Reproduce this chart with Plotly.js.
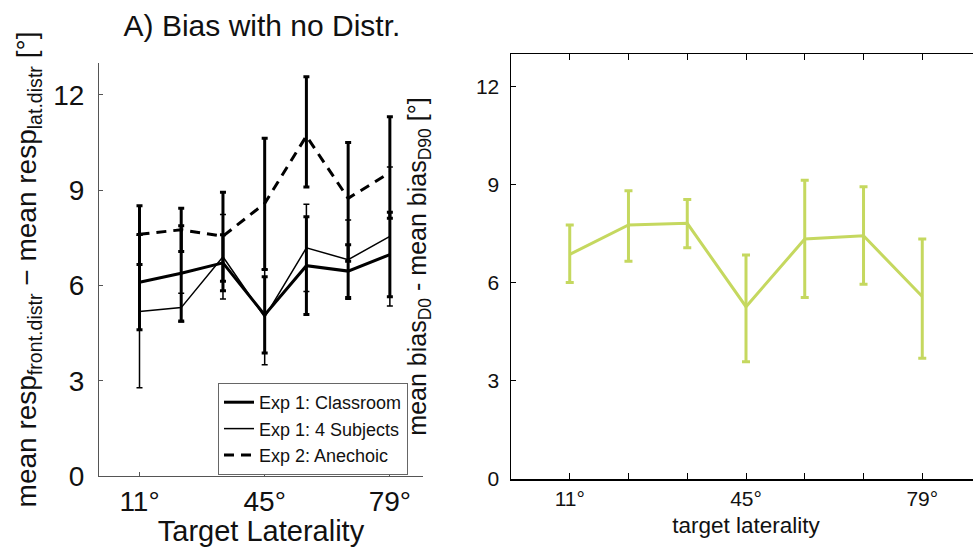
<!DOCTYPE html>
<html>
<head>
<meta charset="utf-8">
<script src="https://cdn.plot.ly/plotly-3.0.1.min.js"></script>
<style>
  html, body { margin: 0; padding: 0; overflow: hidden; background: #fff; }
  #chart { width: 1000px; height: 547px; }
</style>
</head>
<body>
<div id="chart"></div>
<script>
// ---- data ----
const laterality = [11, 22.33, 33.67, 45, 56.33, 67.67, 79];
const leftTickVals = [11, 45, 79];
const leftTickText = ['11°', '45°', '79°'];
const rightTickText = ['11°', '', '', '45°', '', '', '79°'];
const yTicks = [0, 3, 6, 9, 12];

const classroomMean = [6.10, 6.38, 6.71, 5.07, 6.62, 6.45, 6.97];
const classroomErr  = [1.50, 1.50, 0.88, 1.20, 1.54, 0.83, 1.33];

const subjectsMean = [5.18, 5.30, 6.90, 5.00, 7.18, 6.81, 7.54];
const subjectsErr  = [2.40, 0.45, 1.33, 1.50, 1.37, 1.25, 2.19];

const anechoicMean  = [7.61, 7.75, 7.55, 8.58, 10.70, 8.74, 9.55];
const anechoicPlus  = [0.90, 0.68, 1.38, 2.05, 1.87, 1.76, 1.76];
const anechoicMinus = [0.95, 0.68, 1.42, 2.08, 1.60, 1.98, 1.44];

const diffMean  = [6.87, 7.77, 7.82, 5.27, 7.34, 7.44, 5.58];
const diffPlus  = [0.90, 1.05, 0.73, 1.58, 1.80, 1.50, 1.76];
const diffMinus = [0.86, 1.11, 0.75, 1.68, 1.79, 1.48, 1.89];

const FONT = 'Liberation Sans, Arial, Helvetica, sans-serif';
const GREEN = '#c5d85f';

const traces = [
  {
    name: 'Exp 1: Classroom', x: laterality, y: classroomMean, xaxis: 'x', yaxis: 'y',
    type: 'scatter', mode: 'lines',
    line: {color: '#000', width: 3},
    error_y: {type: 'data', array: classroomErr, visible: true, color: '#000', thickness: 3, width: 3}
  },
  {
    name: 'Exp 1: 4 Subjects', x: laterality, y: subjectsMean, xaxis: 'x', yaxis: 'y',
    type: 'scatter', mode: 'lines',
    line: {color: '#000', width: 1.5},
    error_y: {type: 'data', array: subjectsErr, visible: true, color: '#000', thickness: 1.5, width: 3}
  },
  {
    name: 'Exp 2: Anechoic', x: laterality, y: anechoicMean, xaxis: 'x', yaxis: 'y',
    type: 'scatter', mode: 'lines',
    line: {color: '#000', width: 3, dash: '10px,7px'},
    error_y: {type: 'data', symmetric: false, array: anechoicPlus, arrayminus: anechoicMinus,
              visible: true, color: '#000', thickness: 3, width: 3}
  },
  {
    name: 'D0 - D90', x: laterality, y: diffMean, xaxis: 'x2', yaxis: 'y2',
    type: 'scatter', mode: 'lines', showlegend: false,
    line: {color: GREEN, width: 3},
    error_y: {type: 'data', symmetric: false, array: diffPlus, arrayminus: diffMinus,
              visible: true, color: GREEN, thickness: 3, width: 4}
  }
];

const layout = {
  width: 1000, height: 547,
  margin: {l: 0, r: 0, t: 0, b: 0},
  paper_bgcolor: '#fff', plot_bgcolor: '#fff',
  font: {family: FONT, color: '#111'},
  title: {text: 'A) Bias with no Distr.', font: {family: FONT, size: 30, color: '#111'},
          x: 0.262, xanchor: 'center', xref: 'paper', y: 1 - 25/547, yanchor: 'middle'},
  showlegend: true,
  legend: {x: 0.218, y: 1 - 383/547, xanchor: 'left', yanchor: 'top',
           bgcolor: '#fff', bordercolor: '#666', borderwidth: 1, tracegroupgap: 0,
           font: {family: FONT, size: 18, color: '#111'}},
  xaxis: {
    domain: [0.099, 0.423], range: [0, 88], anchor: 'y',
    tickvals: leftTickVals, ticktext: leftTickText,
    ticks: 'inside', ticklen: 4, tickcolor: '#555',
    showline: true, linecolor: '#555', linewidth: 1,
    showgrid: false, zeroline: false,
    tickfont: {family: FONT, size: 28, color: '#111'},
    title: {text: 'Target Laterality', font: {family: FONT, size: 29, color: '#111'}, standoff: 0}
  },
  yaxis: {
    domain: [1 - 476/547, 1 - 63/547], range: [0, 13], anchor: 'x',
    tickvals: yTicks, ticks: 'inside', ticklen: 4, tickcolor: '#555',
    showline: true, linecolor: '#555', linewidth: 1,
    showgrid: false, zeroline: false, ticklabelstandoff: 8,
    tickfont: {family: FONT, size: 28, color: '#111'},
    title: {text: 'mean resp<sub>front.distr</sub> \u2212 mean resp<sub>lat.distr</sub> [°]',
            font: {family: FONT, size: 28, color: '#111'}, standoff: 8}
  },
  xaxis2: {
    domain: [0.511, 0.981], range: [-0.33, 90.33], anchor: 'y2',
    tickvals: laterality, ticktext: rightTickText,
    ticks: 'inside', ticklen: 6, tickcolor: '#000', mirror: 'ticks',
    showline: true, linecolor: '#000', linewidth: 1.5,
    showgrid: false, zeroline: false,
    tickfont: {family: FONT, size: 21, color: '#111'},
    title: {text: 'target laterality', font: {family: FONT, size: 22.5, color: '#111'}, standoff: 8}
  },
  yaxis2: {
    domain: [1 - 479/547, 1 - 54/547], range: [0, 13], anchor: 'x2',
    tickvals: yTicks, ticks: 'inside', ticklen: 5, tickcolor: '#000', mirror: 'ticks',
    showline: true, linecolor: '#000', linewidth: 1.5,
    showgrid: false, zeroline: false, ticklabelstandoff: 6,
    tickfont: {family: FONT, size: 21, color: '#111'},
    title: {text: 'mean bias<sub>D0</sub> - mean bias<sub>D90</sub> [°]',
            font: {family: FONT, size: 25, color: '#111'}, standoff: 42}
  }
};

Plotly.newPlot('chart', traces, layout, {staticPlot: true, displayModeBar: false});
</script>
</body>
</html>
